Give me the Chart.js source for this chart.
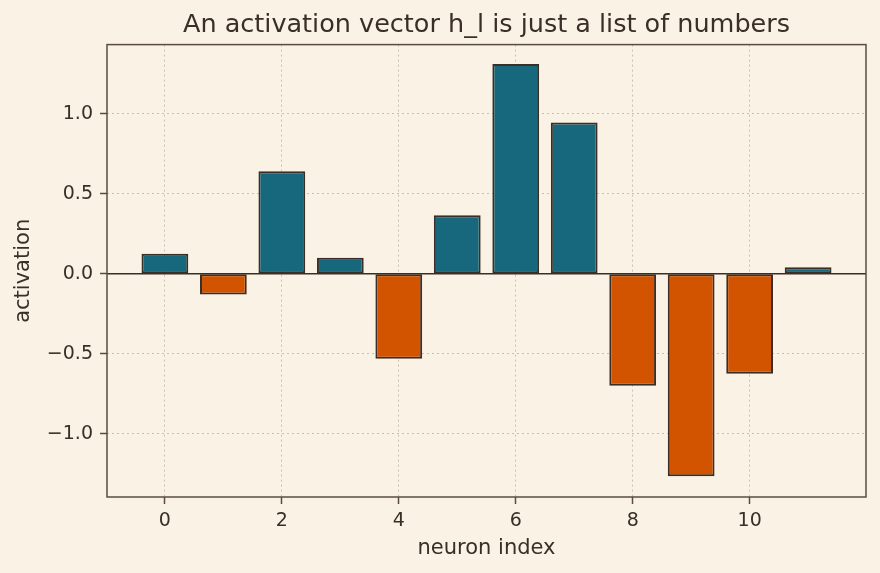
<!DOCTYPE html>
<html>
<head>
<meta charset="utf-8">
<script src="https://cdn.jsdelivr.net/npm/chart.js@4.4.1/dist/chart.umd.min.js"></script>
<style>
  html, body { margin: 0; padding: 0; background: #faf2e4; }
  #wrap { width: 880px; height: 573px; }
</style>
</head>
<body>
<div id="wrap"><canvas id="chart" width="880" height="573"></canvas></div>
<script>
// neuron indices and their activations
const neurons = [0, 1, 2, 3, 4, 5, 6, 7, 8, 9, 10, 11];
const activations = [0.125, -0.13, 0.64, 0.10, -0.53, 0.365, 1.31, 0.945, -0.70, -1.265, -0.625, 0.04];
const xTicks = [0, 2, 4, 6, 8, 10];
const yTicks = [-1.0, -0.5, 0.0, 0.5, 1.0];

const INK = '#3a2e26';
const SPINE = '#5a4d3f';
const GRID = '#c8c0b2';
const POS = '#17687d';
const NEG = '#d35400';

// frame around the plot + the zero line
const framePlugin = {
    id: 'frame',
    afterDraw(chart) {
        const ctx = chart.ctx;
        const a = chart.chartArea;
        const y0 = chart.scales.y.getPixelForValue(0);
        ctx.save();
        ctx.strokeStyle = INK;
        ctx.lineWidth = 1.5;
        ctx.beginPath();
        ctx.moveTo(a.left, y0);
        ctx.lineTo(a.right, y0);
        ctx.stroke();
        ctx.strokeStyle = SPINE;
        ctx.lineWidth = 1.5;
        ctx.strokeRect(a.left, a.top, a.right - a.left, a.bottom - a.top);
        ctx.restore();
    }
};

const ctx = document.getElementById('chart').getContext('2d');
new Chart(ctx, {
    type: 'bar',
    data: {
        datasets: [{
            data: neurons.map((n, i) => ({ x: n, y: activations[i] })),
            backgroundColor: activations.map(v => v >= 0 ? POS : NEG),
            borderColor: INK,
            borderWidth: 2,
            borderSkipped: false,
            barPercentage: 0.8,
            categoryPercentage: 1.0,
        }],
    },
    options: {
        responsive: false,
        animation: false,
        layout: { padding: { left: 0, right: 14, top: 0, bottom: 0 } },
        plugins: {
            legend: { display: false },
            tooltip: { enabled: false },
            title: {
                display: true,
                fullSize: false,
                text: 'An activation vector h_l is just a list of numbers',
                color: INK,
                font: { family: 'DejaVu Sans', size: 25.5, weight: 'normal' },
                padding: { top: 10, bottom: 4 },
            },
        },
        scales: {
            x: {
                type: 'linear',
                min: -0.99,
                max: 11.99,
                offset: false,
                z: 1,
                afterBuildTicks: (scale) => { scale.ticks = xTicks.map(v => ({ value: v })); },
                afterFit: (scale) => { scale.height = 76; },
                grid: { offset: false, color: GRID, lineWidth: 1, tickColor: SPINE, tickLength: 7, tickWidth: 1.5 },
                border: { display: false, dash: [2, 3] },
                ticks: {
                    color: INK,
                    padding: 6,
                    maxRotation: 0,
                    font: { family: 'DejaVu Sans', size: 19 },
                    callback: (v) => String(v),
                },
                title: {
                    display: true,
                    text: 'neuron index',
                    color: INK,
                    font: { family: 'DejaVu Sans', size: 21 },
                    padding: { top: 0, bottom: 12 },
                },
            },
            y: {
                type: 'linear',
                min: -1.394,
                max: 1.431,
                z: 1,
                afterBuildTicks: (scale) => { scale.ticks = yTicks.map(v => ({ value: v })); },
                afterFit: (scale) => { scale.width = 107; },
                grid: { color: GRID, lineWidth: 1, tickColor: SPINE, tickLength: 7, tickWidth: 1.5 },
                border: { display: false, dash: [2, 3] },
                ticks: {
                    color: INK,
                    padding: 7,
                    font: { family: 'DejaVu Sans', size: 19 },
                    callback: (v) => (v < 0 ? '\u2212' : '') + Math.abs(v).toFixed(1),
                },
                title: {
                    display: true,
                    text: 'activation',
                    color: INK,
                    font: { family: 'DejaVu Sans', size: 21 },
                    padding: { top: 11, bottom: 0 },
                },
            },
        },
    },
    plugins: [framePlugin],
});
</script>
</body>
</html>
